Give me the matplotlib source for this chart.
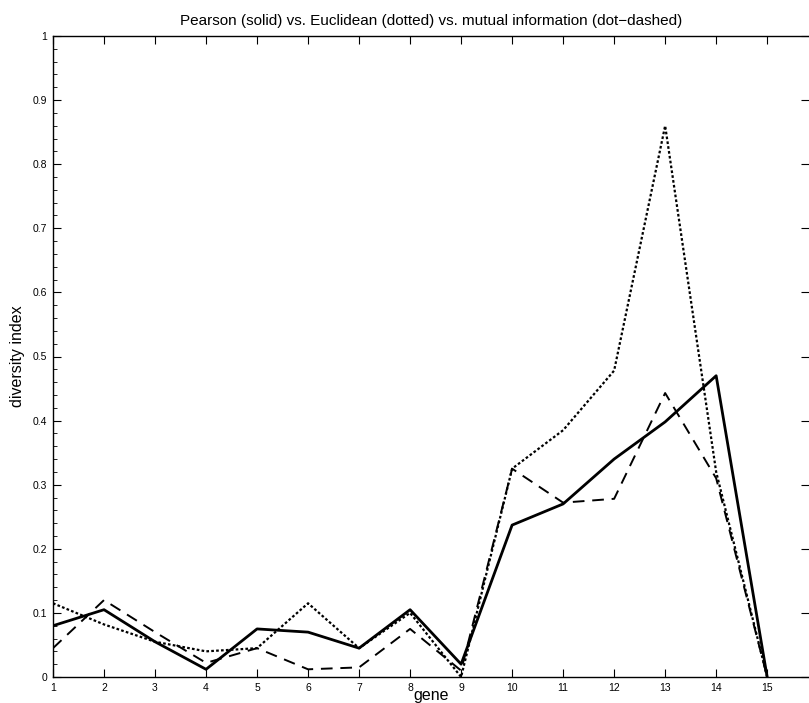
import matplotlib
matplotlib.use("Agg")
import matplotlib.pyplot as plt
from matplotlib.ticker import MultipleLocator

genes = list(range(1, 16))
pearson = [0.080, 0.105, 0.055, 0.012, 0.075, 0.070, 0.045, 0.105, 0.020,
           0.237, 0.270, 0.340, 0.398, 0.470, 0.000]
euclidean = [0.115, 0.082, 0.055, 0.040, 0.045, 0.115, 0.045, 0.100, 0.000,
             0.325, 0.385, 0.478, 0.860, 0.320, 0.000]
mutual_info = [0.045, 0.120, 0.070, 0.022, 0.045, 0.012, 0.015, 0.075, 0.010,
               0.325, 0.272, 0.278, 0.443, 0.310, 0.000]
x_ticks = list(range(1, 16))
y_ticks = [0, 0.1, 0.2, 0.3, 0.4, 0.5, 0.6, 0.7, 0.8, 0.9, 1]
y_tick_labels = ["0", "0.1", "0.2", "0.3", "0.4", "0.5", "0.6", "0.7", "0.8", "0.9", "1"]

plt.rcParams['font.family'] = ['Liberation Sans', 'DejaVu Sans']

fig = plt.figure(figsize=(8.09, 7.03), dpi=100)
ax = fig.add_axes([53/809, 1 - 677/703, 1 - 53/809 + 0.0, (677 - 36)/703])

ax.plot(genes, pearson, color='black', lw=2.0, ls='-')
ax.plot(genes, euclidean, color='black', lw=1.6, ls=(0, (1.2, 1.0)))
ax.plot(genes, mutual_info, color='black', lw=1.4, ls=(0, (6, 4)))

ax.set_xlim(1, 15.82)
ax.set_ylim(0, 1)
ax.set_xticks(x_ticks)
ax.set_xticklabels([str(t) for t in x_ticks], fontsize=7.5)
ax.set_yticks(y_ticks)
ax.set_yticklabels(y_tick_labels, fontsize=7.5)
ax.yaxis.set_minor_locator(MultipleLocator(0.02))
ax.tick_params(axis='both', which='major', direction='in', length=6, width=0.8,
               top=True, right=True, pad=4)
ax.tick_params(axis='y', which='minor', direction='in', length=3, width=0.6,
               right=False, left=True)
ax.spines['right'].set_visible(False)
for s in ['left', 'top', 'bottom']:
    ax.spines[s].set_linewidth(1.0)

ax.set_title("Pearson (solid) vs. Euclidean (dotted) vs. mutual information (dot\u2212dashed)",
             fontsize=11, pad=8)
ax.set_xlabel("gene", fontsize=11.5, labelpad=-3)
ax.set_ylabel("diversity index", fontsize=11.5, labelpad=6)

fig.savefig("out.png", dpi=100)
